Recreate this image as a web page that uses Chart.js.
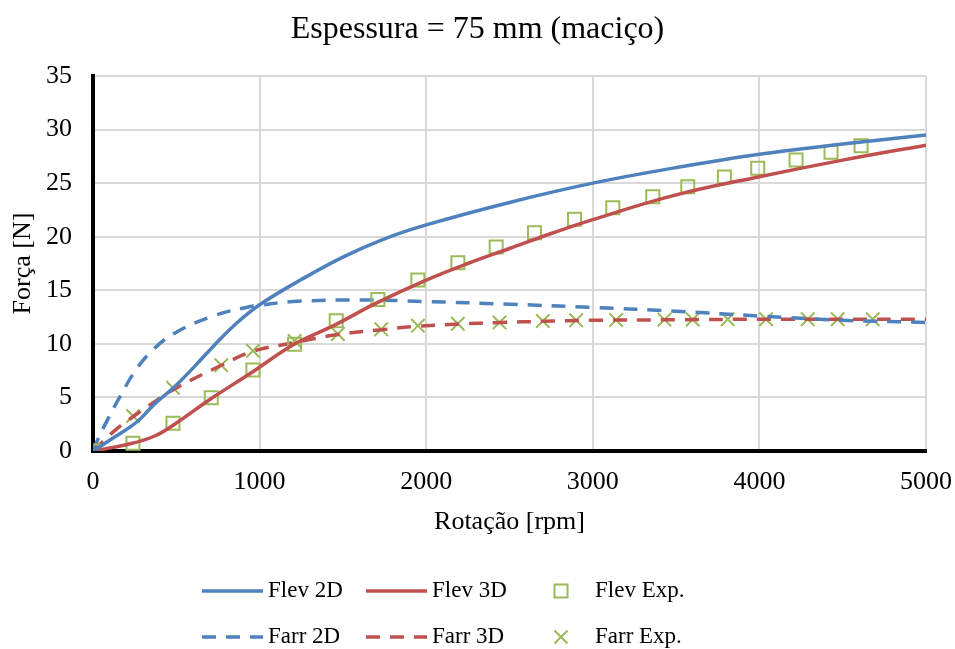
<!DOCTYPE html>
<html lang="pt">
<head>
<meta charset="UTF-8">
<title>Espessura = 75 mm (maciço)</title>
<script src="https://cdn.jsdelivr.net/npm/chart.js"></script>
<style>
    body { margin: 0; background: #fff; }
    #wrap { width: 955px; height: 649px; position: relative; }
</style>
</head>
<body>
<div id="wrap"><canvas id="forcaChart"></canvas></div>

<script>
    // dados (rotação em rpm, força em N)
    const flev2dX = [0, 130, 270, 370, 490, 610, 730, 860, 1000, 1250, 1500, 1750, 2000, 2500, 3000, 3500, 4000, 4500, 5000];
    const flev2dY = [0, 1.3, 2.8, 4.4, 6.0, 7.9, 9.9, 11.9, 13.65, 16.0, 18.1, 19.8, 21.1, 23.2, 25.0, 26.45, 27.7, 28.65, 29.5];

    const flev3dX = [0, 230, 370, 490, 710, 950, 1200, 1450, 1700, 2000, 2250, 2500, 2750, 3000, 3500, 4000, 4500, 5000];
    const flev3dY = [0, 0.7, 1.4, 2.5, 4.9, 7.3, 9.9, 11.75, 13.8, 15.95, 17.5, 18.9, 20.3, 21.6, 23.9, 25.6, 27.15, 28.55];

    const farr2dX = [0, 30, 90, 170, 250, 350, 490, 720, 920, 1000, 1200, 1600, 2000, 2500, 3000, 3500, 4000, 4500, 5000];
    const farr2dY = [0, 1.1, 3.0, 5.3, 7.4, 9.3, 11.0, 12.6, 13.4, 13.6, 13.95, 14.1, 13.95, 13.7, 13.4, 13.05, 12.6, 12.2, 12.0];

    const farr3dX = [0, 130, 240, 370, 490, 770, 960, 1200, 1460, 1720, 1960, 2200, 2450, 2700, 3000, 3500, 4000, 4500, 5000];
    const farr3dY = [0, 1.9, 3.2, 4.6, 5.8, 8.0, 9.3, 10.1, 10.85, 11.3, 11.65, 11.85, 12.0, 12.1, 12.2, 12.25, 12.3, 12.3, 12.3];

    const flevExpX = [0, 240, 480, 710, 960, 1210, 1460, 1710, 1950, 2190, 2420, 2650, 2890, 3120, 3360, 3570, 3790, 3990, 4220, 4430, 4610];
    const flevExpY = [0, 0.72, 2.58, 4.98, 7.56, 9.96, 12.16, 14.15, 15.96, 17.57, 19.04, 20.37, 21.63, 22.71, 23.73, 24.67, 25.57, 26.39, 27.16, 27.88, 28.5];

    const farrExpX = [0, 240, 480, 770, 960, 1210, 1470, 1730, 1950, 2190, 2440, 2700, 2900, 3140, 3430, 3600, 3810, 4040, 4290, 4470, 4680];
    const farrExpY = [0, 3.27, 5.9, 8.0, 9.36, 10.27, 10.92, 11.36, 11.7, 11.88, 12.0, 12.13, 12.2, 12.23, 12.26, 12.27, 12.3, 12.3, 12.3, 12.3, 12.3];

    const seriesLabels = ['Flev 2D', 'Flev 3D', 'Flev Exp.', 'Farr 2D', 'Farr 3D', 'Farr Exp.'];

    const pts = (xs, ys) => xs.map((x, i) => ({ x: x, y: ys[i] }));

    const azul = '#4f81bd';
    const vermelho = '#c0504d';
    const verde = '#9bbb59';
    const serif = '"Liberation Serif", "Times New Roman", serif';

    function curva(label, xs, ys, cor, tracejado) {
        return {
            type: 'line',
            label: label,
            data: pts(xs, ys),
            borderColor: cor,
            borderWidth: 3.5,
            borderDash: tracejado ? [14, 10] : [],
            pointRadius: 0,
            tension: 0.4,
            fill: false
        };
    }

    function marcadores(label, xs, ys, estilo, raio) {
        return {
            type: 'line',
            label: label,
            data: pts(xs, ys),
            showLine: false,
            pointStyle: estilo,
            pointRadius: raio,
            pointBorderWidth: 2,
            borderColor: verde,
            borderWidth: 2,
            pointBackgroundColor: 'rgba(0,0,0,0)',
            backgroundColor: 'rgba(0,0,0,0)'
        };
    }

    // legenda em duas linhas, desenhada à mão
    const legendColX = [202, 366, 532];
    const legendRowY = [591, 637];

    function desenhaMarcador(ctx, estilo, cx, cy) {
        ctx.beginPath();
        if (estilo === 'rect') {
            ctx.rect(cx - 6.5, cy - 6.5, 13, 13);
        } else {
            ctx.moveTo(cx - 6.5, cy - 6.5); ctx.lineTo(cx + 6.5, cy + 6.5);
            ctx.moveTo(cx + 6.5, cy - 6.5); ctx.lineTo(cx - 6.5, cy + 6.5);
        }
        ctx.stroke();
    }

    const legendaPlugin = {
        id: 'legendaDuasLinhas',
        afterDraw(chart) {
            const ctx = chart.ctx;
            ctx.save();
            ctx.font = '23px ' + serif;
            ctx.textBaseline = 'middle';
            ctx.textAlign = 'left';
            chart.data.datasets.forEach((ds, i) => {
                const y = legendRowY[Math.floor(i / 3)];
                const x0 = legendColX[i % 3];
                ctx.strokeStyle = ds.borderColor;
                ctx.lineWidth = ds.borderWidth;
                if (ds.showLine === false) {
                    ctx.setLineDash([]);
                    desenhaMarcador(ctx, ds.pointStyle, x0 + 29, y);
                    ctx.fillStyle = '#000';
                    ctx.fillText(ds.label, x0 + 63, y);
                } else {
                    ctx.setLineDash(ds.borderDash);
                    ctx.beginPath();
                    ctx.moveTo(x0, y);
                    ctx.lineTo(x0 + 61, y);
                    ctx.stroke();
                    ctx.setLineDash([]);
                    ctx.fillStyle = '#000';
                    ctx.fillText(ds.label, x0 + 66, y);
                }
            });
            ctx.restore();
        }
    };

    const ctx = document.getElementById('forcaChart').getContext('2d');
    new Chart(ctx, {
        data: {
            datasets: [
                curva(seriesLabels[0], flev2dX, flev2dY, azul, false),
                curva(seriesLabels[1], flev3dX, flev3dY, vermelho, false),
                marcadores(seriesLabels[2], flevExpX, flevExpY, 'rect', 9.2),
                curva(seriesLabels[3], farr2dX, farr2dY, azul, true),
                curva(seriesLabels[4], farr3dX, farr3dY, vermelho, true),
                marcadores(seriesLabels[5], farrExpX, farrExpY, 'crossRot', 9.5)
            ]
        },
        options: {
            responsive: true,
            maintainAspectRatio: false,
            animation: false,
            layout: { padding: { left: 0, right: 0, top: 0, bottom: 103 } },
            plugins: {
                legend: { display: false },
                tooltip: { enabled: false },
                title: {
                    display: true,
                    text: 'Espessura = 75 mm (maciço)',
                    color: '#000',
                    font: { family: serif, size: 32, weight: 'normal' },
                    padding: { top: 10, bottom: 27.6 }
                }
            },
            scales: {
                x: {
                    type: 'linear',
                    min: 0,
                    max: 5000,
                    ticks: {
                        stepSize: 1000, color: '#000', padding: 16,
                        font: { family: serif, size: 26 },
                        callback: (v) => String(v)
                    },
                    grid: { color: '#d9d9d9', lineWidth: 2, drawTicks: false },
                    border: { color: '#000', width: 4 },
                    title: {
                        display: true,
                        text: 'Rotação [rpm]',
                        color: '#000',
                        font: { family: serif, size: 26 },
                        padding: { top: 0, bottom: 8 }
                    },
                    afterFit(scale) {
                        scale.height = 95;
                        scale.paddingLeft = 0;
                        scale.paddingRight = 29;
                    }
                },
                y: {
                    min: 0,
                    max: 35,
                    ticks: {
                        stepSize: 5, color: '#000', padding: 21,
                        font: { family: serif, size: 26 },
                        callback: (v) => String(v)
                    },
                    grid: { color: '#d9d9d9', lineWidth: 2, drawTicks: false },
                    border: { color: '#000', width: 4 },
                    title: {
                        display: true,
                        text: 'Força [N]',
                        color: '#000',
                        font: { family: serif, size: 26 },
                        padding: { top: 7.4, bottom: 0 }
                    },
                    afterFit(scale) { scale.width = 93; }
                }
            }
        },
        plugins: [legendaPlugin]
    });
</script>
</body>
</html>
